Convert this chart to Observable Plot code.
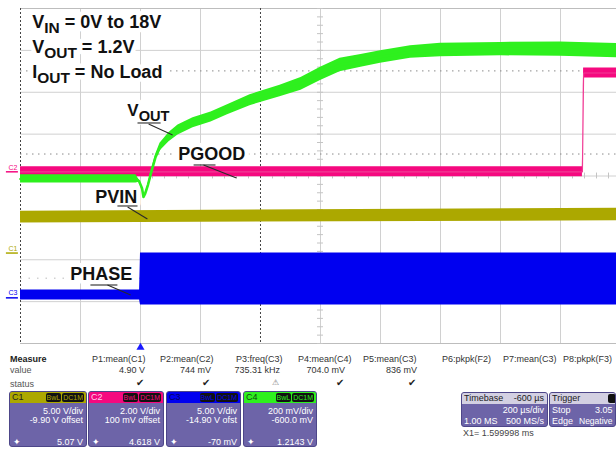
<!DOCTYPE html>
<html><head><meta charset="utf-8">
<script src="https://cdn.jsdelivr.net/npm/d3@7"></script>
<script src="https://cdn.jsdelivr.net/npm/@observablehq/plot@0.6"></script>
<style>
html,body{margin:0;padding:0;background:#fff;overflow:hidden;}
#wrap{position:relative;width:616px;height:451px;overflow:hidden;font-family:Arial,"Liberation Sans",sans-serif;}
#panel{position:relative;width:616px;height:100px;}
.a{position:absolute;white-space:nowrap;font-size:9px;line-height:10px;color:#333;}
.cp{position:absolute;top:40px;height:56px;background:#6d64a8;border:1px solid #4d4689;border-radius:3px;overflow:hidden;color:#fff;font-size:9px;box-sizing:border-box;}
.hd{position:absolute;left:0;right:0;top:0;height:11px;line-height:11px;}
.nm{position:absolute;left:2px;top:0;font-size:9px;}
.bds{position:absolute;right:2px;top:1px;line-height:9px;}
.bd{display:inline-block;background:#111;border-radius:2px;padding:0 1px;font-size:7px;line-height:9px;margin-left:1px;}
.r{position:absolute;right:3px;line-height:10px;white-space:nowrap;}
.l{position:absolute;left:3px;line-height:10px;white-space:nowrap;}
</style></head>
<body><div id="wrap"><div id="chart"></div><div id="panel"></div></div>
<script>
// ---------- data (time in µs relative to trigger, amplitude in screen divisions) ----------
const voutT = [-400, -15, -5, 5, 10, 15, 25, 35, 50, 65, 95, 125, 175, 235, 290, 365, 465, 535, 600, 665, 735, 800, 900, 1000, 1200, 1400, 1600];
const voutY = [-0.07, -0.07, -0.12, -0.29, -0.50, -0.43, -0.21, 0.07, 0.45, 0.69, 0.93, 1.10, 1.27, 1.41, 1.58, 1.81, 2.03, 2.20, 2.44, 2.65, 2.75, 2.84, 2.96, 3.01, 3.03, 3.03, 2.99];
const voutN = [0.10, 0.10, 0.03, 0, 0, 0, 0.02, 0.04, 0.06, 0.09, 0.11, 0.12, 0.12, 0.12, 0.12, 0.13, 0.14, 0.15, 0.16, 0.16, 0.15, 0.15, 0.15, 0.16, 0.16, 0.17, 0.17];

const pgoodT = [-400, 1473, 1477, 1600];
const pgoodY = [0.10, 0.10, 2.46, 2.46];
const pgoodN = [0.12, 0.12, 0.12, 0.12];

const pvinT = [-400, 1600];
const pvinY = [-0.98, -0.92];
const pvinN = [0.14, 0.15];

const phaseT = [-400, -3, 0, 1600];
const phaseY = [-2.84, -2.84, -2.46, -2.46];
const phaseN = [0.12, 0.12, 0.62, 0.62];

const gridT = [-200, 0, 200, 600, 800, 1000, 1200, 1400];
const gridY = [-3, -2, -1, 0, 1, 2, 3];
const cursorT = [-400, 400];
const levelY = [2.51, 0.525];
const faintLevelY = [-2.44];
const trigT = [0];

const labelText = ["V_{IN} = 0V to 18V", "V_{OUT} = 1.2V", "I_{OUT} = No Load", "V_{OUT}", "PGOOD", "PVIN", "PHASE"];
const labelT = [-361, -361, -361, -44, 126, -151, -234];
const labelY = [3.53, 2.94, 2.34, 1.43, 0.38, -0.645, -2.484];

const leaderX1 = [-10, 27, 177, 210, -77, -43, -167, -110];
const leaderY1 = [1.266, 1.242, 0.263, 0.263, -0.716, -0.740, -2.603, -2.603];
const leaderX2 = [67, 107, 250, 320, -10, 23, -77, -33];
const leaderY2 = [1.266, 0.979, 0.263, -0.048, -0.716, -1.027, -2.603, -2.842];

const chMarkText = ["C2", "C1", "C3"];
const chMarkY = [0.19, -1.74, -2.79];
const chMarkLineY = [0.10, -1.84, -2.91];

const measureNames = ["P1:mean(C1)", "P2:mean(C2)", "P3:freq(C3)", "P4:mean(C4)", "P5:mean(C3)", "P6:pkpk(F2)", "P7:mean(C3)", "P8:pkpk(F3)"];
const measureValues = ["4.90 V", "744 mV", "735.31 kHz", "704.0 mV", "836 mV"];
const measureStatus = ["✔", "✔", "⚠", "✔", "✔"];
const chNames = ["C1", "C2", "C3", "C4"];
const chScale = ["5.00 V/div", "2.00 V/div", "5.00 V/div", "200 mV/div"];
const chOffset = ["-9.90 V offset", "100 mV offset", "-14.90 V ofst", "-600.0 mV"];
const chReading = ["5.07 V", "4.618 V", "-70 mV", "1.2143 V"];
const timebase = ["Timebase", "-600 µs", "200 µs/div", "1.00 MS", "500 MS/s"];
const trigger = ["Trigger", "Stop", "3.05", "Edge", "Negative"];
const cursorText = "X1=  1.599998 ms";

// ---------- build ----------
const rows = (T, Y, N) => T.map((t, i) => ({t, y: Y[i], n: N[i]}));
const vout = rows(voutT, voutY, voutN);
const pgood = rows(pgoodT, pgoodY, pgoodN);
const pvin = rows(pvinT, pvinY, pvinN);
const phase = rows(phaseT, phaseY, phaseN);
const labels = labelText.map((s, i) => ({s, t: labelT[i], y: labelY[i], fs: i === 3 ? 17 : 18}));
const leaders = leaderX1.map((x1, i) => ({x1, y1: leaderY1[i], x2: leaderX2[i], y2: leaderY2[i]}));
const chColors = {C1: "#aca800", C2: "#f5097f", C3: "#0000f0", C4: "#2ef01e"};
const chMarks = chMarkText.map((s, i) => ({s, y: chMarkY[i], ly: chMarkLineY[i]}));

const band = (data, color) => Plot.areaY(data, {x: "t", y1: d => d.y - d.n, y2: d => d.y + d.n, fill: color, curve: "linear"});
const ctr = (data, color, w) => Plot.line(data, {x: "t", y: "y", stroke: color, strokeWidth: w, curve: "linear"});

const FONT = "Arial, 'Liberation Sans', sans-serif";
const labelOpts = {x: "t", y: "y", text: "s", fontSize: "fs", fontWeight: "bold", fontFamily: FONT, textAnchor: "start", lineAnchor: "bottom"};
const chart = Plot.plot({
  width: 616, height: 351,
  marginLeft: 20, marginRight: 0, marginTop: 8, marginBottom: 8,
  x: {domain: [-400, 1586.67], axis: null},
  y: {domain: [-4, 4], axis: null},
  style: {background: "white", fontFamily: FONT},
  marks: [
    Plot.ruleX(gridT, {stroke: "#d0d0d0"}),
    Plot.ruleY(gridY, {stroke: "#d0d0d0"}),
    Plot.ruleY([4, -4], {stroke: "#bdbdbd"}),
    Plot.ruleY(d3.range(-4, 4.001, 0.2), {x1: 590, x2: 610, stroke: "#c4c4c4"}),
    Plot.ruleX(d3.range(-400, 1600, 40), {y1: -0.07, y2: 0.07, stroke: "#c4c4c4"}),
    Plot.ruleX(cursorT, {stroke: "#444", strokeDasharray: "2,2"}),
    Plot.ruleY(levelY, {stroke: "#8a8a8a", strokeDasharray: "1.5,4.5"}),
    Plot.ruleY(faintLevelY, {stroke: "#bbbbbb", strokeDasharray: "1.5,7"}),
    Plot.text(labels, {...labelOpts, fill: "white", stroke: "white", strokeWidth: 9}),
    Plot.text(labels, {...labelOpts, fill: "#111"}),
    band(pvin, chColors.C1),
    band(phase, chColors.C3),
    band(pgood, chColors.C2), ctr(pgood, "#f03c95", 1.2),
    band(vout, chColors.C4), ctr(vout, chColors.C4, 2.6),
    Plot.link(leaders, {x1: "x1", y1: "y1", x2: "x2", y2: "y2", stroke: "#2a2a2a", strokeWidth: 1.1}),
    Plot.text(chMarks, {x: -440, y: "y", text: "s", fontSize: 7, textAnchor: "start", fill: d => chColors[d.s]}),
    Plot.ruleY(chMarks, {y: "ly", x1: -447, x2: -407, stroke: d => chColors[d.s], strokeWidth: 1.5}),
    Plot.dot(trigT, {x: d => d, frameAnchor: "bottom", dy: 4, symbol: "triangle", r: 3, fill: "#1a1aff"})
  ]
});
document.getElementById("chart").appendChild(chart);

// subscripts: "_{...}" -> lowered tspan
chart.querySelectorAll("text").forEach(el => {
  const s = el.textContent;
  if (!s.includes("_{")) return;
  el.textContent = "";
  s.split(/_\{([^}]*)\}/).forEach((p, i) => {
    if (!p) return;
    const ts = document.createElementNS("http://www.w3.org/2000/svg", "tspan");
    ts.textContent = p;
    if (i % 2 === 1) { ts.setAttribute("dy", "5"); ts.setAttribute("font-size", "0.86em"); }
    else if (i > 0) ts.setAttribute("dy", "-5");
    el.appendChild(ts);
  });
});

// ---------- scope status panel ----------
const panel = document.getElementById("panel");
function put(parent, txt, x, y, css = "", right = false) {
  const d = document.createElement("div");
  d.className = "a";
  d.textContent = txt;
  d.style.left = x + "px"; d.style.top = y + "px";
  if (right) d.style.transform = "translateX(-100%)";
  d.style.cssText += css;
  parent.appendChild(d);
  return d;
}
put(panel, "Measure", 10, 3, "font-weight:bold;color:#222;");
put(panel, "value", 10, 14, "color:#555;");
put(panel, "status", 10, 28, "color:#555;");
const colX = [92, 160, 236, 298, 363, 442, 503, 563];
const valRight = [145, 211, 280, 345, 417];
measureNames.forEach((m, i) => put(panel, m, colX[i], 3, "color:#333;"));
measureValues.forEach((v, i) => put(panel, v, valRight[i], 14, "color:#333;", true));
measureStatus.forEach((s, i) => put(panel, s, valRight[i] - 1, 27, "color:#222;font-size:10px;" + (s === "⚠" ? "color:#777;font-size:8px;" : ""), true));

const cpX = [9, 88, 166, 243], cpW = [78, 76, 75, 74];
const nameColor = {C1: "#222", C2: "#ffd0e8", C3: "#000060", C4: "#114411"};
chNames.forEach((c, i) => {
  const p = document.createElement("div");
  p.className = "cp";
  p.style.left = cpX[i] + "px"; p.style.width = cpW[i] + "px";
  const col = chColors[c];
  p.innerHTML = `<div class="hd" style="background:${col}"><span class="nm" style="color:${nameColor[c]}">${c}</span>` +
    `<span class="bds"><span class="bd" style="color:${col}">BwL</span><span class="bd" style="color:${col}">DC1M</span></span></div>` +
    `<div class="r" style="top:14px">${chScale[i]}</div><div class="r" style="top:23px">${chOffset[i]}</div>` +
    `<div class="l" style="top:45px;font-size:9px">✦</div><div class="r" style="top:45px">${chReading[i]}</div>`;
  panel.appendChild(p);
});

function infoPanel(x, w, t, rightCol) {
  const p = document.createElement("div");
  p.className = "cp";
  p.style.cssText += `left:${x}px;width:${w}px;top:41px;height:35px;`;
  let h = `<div class="hd" style="background:#d3d0e2;color:#222"><span class="l" style="left:2px">${t[0]}</span>`;
  if (rightCol) h += `<span class="r">${t[1]}</span></div>` +
    `<div class="r" style="top:12px">${t[2]}</div><div class="l" style="top:23px;left:2px">${t[3]}</div><div class="r" style="top:23px">${t[4]}</div>`;
  else h += `<span style="position:absolute;left:58px;top:1px;width:8px;height:9px;background:#111;border-radius:2px"></span></div>` +
    `<div class="l" style="top:12px;left:2px">${t[1]}</div><div class="l" style="top:12px;left:45px">${t[2]}</div>` +
    `<div class="l" style="top:23px;left:2px">${t[3]}</div><div class="l" style="top:23px;left:29px;font-size:8.5px">${t[4]}</div>`;
  p.innerHTML = h;
  panel.appendChild(p);
}
infoPanel(461, 87, timebase, true);
infoPanel(549, 67, trigger, false);
put(panel, cursorText, 463, 77, "color:#444;");
</script>
</body></html>
